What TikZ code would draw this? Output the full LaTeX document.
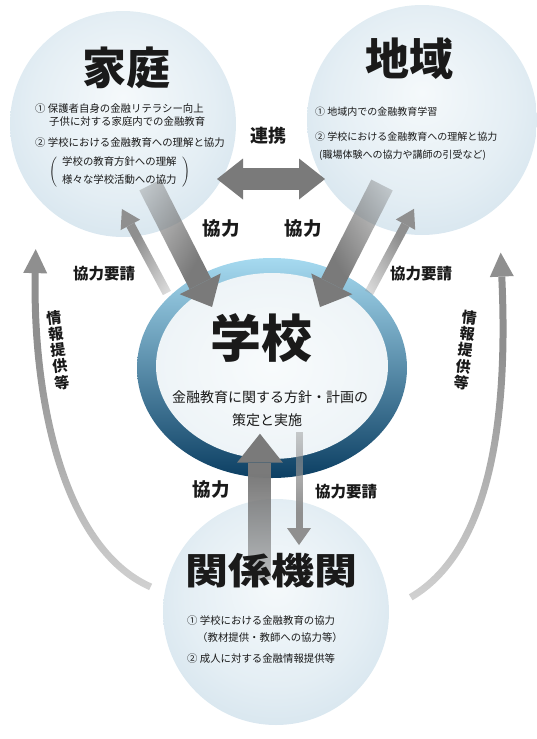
\documentclass[tikz,border=0pt]{standalone}
\usepackage{fontspec}
\setmainfont{Noto Sans CJK JP}
\usetikzlibrary{arrows.meta,fadings,shapes.geometric}
\definecolor{sphA}{HTML}{F5F9FB}
\definecolor{sphB}{HTML}{E4EEF4}
\definecolor{sphC}{HTML}{CADDE9}
\definecolor{sphD}{HTML}{AFC9DA}
\definecolor{ringA}{HTML}{A6DAF0}
\definecolor{ringB}{HTML}{3C98CC}
\definecolor{ringC}{HTML}{0C3F63}
\definecolor{inA}{HTML}{F8FBFC}
\definecolor{inB}{HTML}{EBF2F6}
\definecolor{inC}{HTML}{D2E2EC}
\definecolor{arrDark}{HTML}{7A7A7A}
\definecolor{arrLight}{HTML}{8F8F8F}
\definecolor{txt}{HTML}{1A1A1A}
\pgfdeclareradialshading{sphere}{\pgfpoint{0bp}{6bp}}{color(0bp)=(sphA); color(20bp)=(sphB); color(40bp)=(sphC); color(56bp)=(sphD)}
\pgfdeclareradialshading{innerglow}{\pgfpoint{0bp}{0bp}}{color(0bp)=(inA); color(32bp)=(inB); color(50bp)=(inC)}
\begin{tikzfadingfrompicture}[name=fadeA]
  \fill[transparent!0] (-400bp,-400bp) rectangle (400bp,400bp);
  \fill[transparent!100] (-400bp,-400bp) rectangle (-50bp,400bp);
  \shade[left color=transparent!100, right color=transparent!0] (-50bp,-400bp) rectangle (10bp,400bp);
\end{tikzfadingfrompicture}
\begin{document}
\begin{tikzpicture}[x=1pt,y=-1pt,
  every node/.style={inner sep=0pt, text=txt},
  sph/.style={circle, shade, shading=sphere, minimum size=#1},
  ttl/.style={font=\bfseries\fontsize{#1}{#1}\selectfont},
  body/.style={anchor=west, font=\fontsize{#1}{#1}\selectfont},
  lbl/.style={font=\bfseries\fontsize{#1}{#1}\selectfont},
  vlab/.style={align=center, font=\bfseries\fontsize{15}{16.4}\selectfont},
  blkarrow/.style={draw=arrDark, line width=24pt, -{Triangle[width=46pt,length=26pt,line width=0pt]}, path fading=fadeA},
  thinarrow/.style={draw=arrLight, line width=9pt, -{Triangle[width=22pt,length=18pt,line width=0pt]}, path fading=fadeA},
  curvearrow/.style={draw=arrLight, line width=7pt, -{Triangle[width=24pt,length=24pt,line width=0pt]}, path fading=fadeA}
]
\useasboundingbox (0,0) rectangle (536,739);

% spheres
\node[sph=226pt] (home) at (123,124) {};
\node[sph=230pt] (region) at (422,120) {};
\node[sph=226pt] (relation) at (276,612) {};

% school ellipse
\node[ellipse, minimum width=270pt, minimum height=220pt, top color=ringA, middle color=ringB, bottom color=ringC] (school) at (272,368) {};
\node[ellipse, minimum width=232pt, minimum height=186pt, shade, shading=innerglow] (schoolin) at (272,366) {};

% coordinates for arrows
\coordinate (bl0) at (150,185);  \coordinate (bl1) at (212,307);
\coordinate (br0) at (382,185);  \coordinate (br1) at (320,307);
\coordinate (tl0) at (167,293);  \coordinate (tl1) at (122,209);
\coordinate (tr0) at (369,293);  \coordinate (tr1) at (414,209);
\coordinate (hl) at (217,179);   \coordinate (hr) at (325,179);
\coordinate (up0) at (260,580);  \coordinate (up1) at (260,434);
\coordinate (dn0) at (299,432);  \coordinate (dn1) at (299,545);
\coordinate (lc0) at (150,585);  \coordinate (lc1) at (60,545);
\coordinate (lc2) at (32,390);   \coordinate (lc3) at (35,247);
\coordinate (rc0) at (410,595);  \coordinate (rc1) at (495,545);
\coordinate (rc2) at (507,400);  \coordinate (rc3) at (500,250);

% arrows
\draw[blkarrow, fading angle=-45] (bl0) -- (bl1);
\draw[blkarrow, fading angle=-135] (br0) -- (br1);
\draw[thinarrow, fading angle=135] (tl0) -- (tl1);
\draw[thinarrow, fading angle=45] (tr0) -- (tr1);
\draw[draw=arrDark, line width=22pt, {Triangle[width=41pt,length=26pt,line width=0pt]}-{Triangle[width=41pt,length=26pt,line width=0pt]}] (hl) -- (hr);
\draw[blkarrow, line width=23pt, -{Triangle[width=46pt,length=29pt,line width=0pt]}, fading angle=90] (up0) -- (up1);
\draw[thinarrow, line width=7pt, -{Triangle[width=24pt,length=17pt,line width=0pt]}, fading angle=-90] (dn0) -- (dn1);
\draw[curvearrow, fading angle=90] (lc0) .. controls (lc1) and (lc2) .. (lc3);
\draw[curvearrow, fading angle=90] (rc0) .. controls (rc1) and (rc2) .. (rc3);

% titles
\node[ttl=44] (tA) at (126,68) {家庭};
\node[ttl=44] (tB) at (409,59) {地域};
\node[ttl=51] (tC) at (261,338) {学校};
\node[ttl=43, yscale=0.85] (tD) at (271,571) {関係機関};

% home text
\node[body=10.4] (h1) at (35,109) {① 保護者自身の金融リテラシー向上};
\node[body=10.4] (h2) at (49,122) {子供に対する家庭内での金融教育};
\node[body=10.4] (h3) at (35,143) {② 学校における金融教育への理解と協力};
\node[body=10.4] (h4) at (62,162) {学校の教育方針への理解};
\node[body=10.4] (h5) at (62,180) {様々な学校活動への協力};
\node (pl) at (53,172) {\fontsize{10}{12}\selectfont$\Biggl($};
\node (pr) at (186,172) {\fontsize{10}{12}\selectfont$\Biggr)$};

% region text
\node[body=10] (r1) at (315,112) {① 地域内での金融教育学習};
\node[body=10] (r2) at (315,137) {② 学校における金融教育への理解と協力};
\node[body=10] (r3) at (319,155) {(職場体験への協力や講師の引受など)};

% school text
\node[font=\fontsize{14}{14}\selectfont] (s1) at (270,397) {金融教育に関する方針・計画の};
\node[font=\fontsize{14}{14}\selectfont] (s2) at (267,420) {策定と実施};

% relation text
\node[body=10.4] (k1) at (187,621) {① 学校における金融教育の協力};
\node[body=10.4] (k2) at (197,638) {（教材提供・教師への協力等）};
\node[body=10.4] (k3) at (187,659) {② 成人に対する金融情報提供等};

% labels
\node[lbl=18] (link) at (268,136) {連携};
\node[lbl=18.5] (kA) at (221,229) {協力};
\node[lbl=18.5] (kB) at (303,229) {協力};
\node[lbl=15.5] (rqA) at (104,274) {協力要請};
\node[lbl=15.5] (rqB) at (421,274) {協力要請};
\node[lbl=18.5] (kC) at (211,490) {協力};
\node[lbl=15.5] (rqC) at (346,492) {協力要請};
\node[vlab, rotate=7] (infA) at (58,350) {情\\報\\提\\供\\等};
\node[vlab, rotate=-7] (infB) at (466,350) {情\\報\\提\\供\\等};
\end{tikzpicture}
\end{document}
